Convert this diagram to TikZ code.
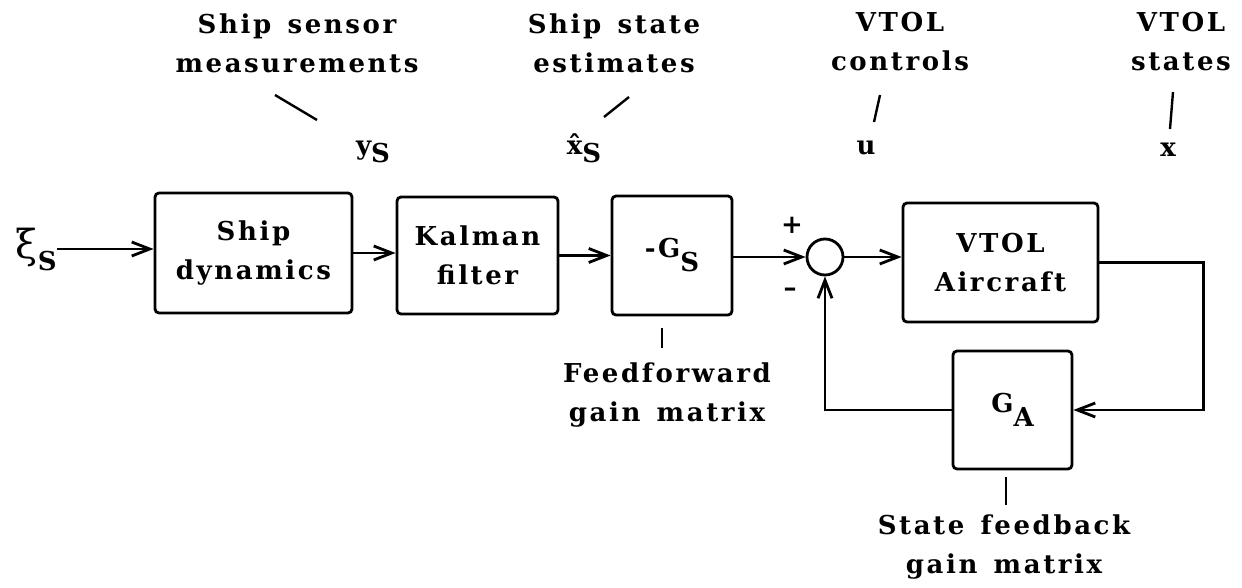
\documentclass[tikz,border=0pt]{standalone}
\usepackage{fontspec}
\setmainfont{DejaVu Serif}[LetterSpace=10,WordSpace=1.4]
\usetikzlibrary{arrows.meta,positioning,calc}
\newcommand{\lowsub}[2][3pt]{\raisebox{-#1}{#2}}

\begin{document}
\begin{tikzpicture}[x=0.5pt,y=-0.5pt,
    font=\fontsize{13}{19.5}\selectfont\bfseries,
    block/.style={draw,rounded corners=2pt,line width=1.4pt,inner sep=0pt,align=center},
    sig/.style={-{Straight Barb[length=9pt,width=7pt]},line width=1.4pt},
    leader/.style={line width=1.2pt},
    note/.style={align=center,inner sep=0pt}]
    \useasboundingbox (0,0) rectangle (1242,588);
    % blocks
    \node[block,minimum width=98.5pt,minimum height=60pt] (ship) at (253.5,253) {Ship\\dynamics};
    \node[block,minimum width=80.5pt,minimum height=58.5pt] (kalman) at (477.5,255.5) {Kalman\\filter};
    \node[block,minimum width=60pt,minimum height=59.5pt] (gs) at (672,255.5) {-G\lowsub[7pt]{S}};
    \node[draw,circle,minimum size=18pt,inner sep=0pt,line width=1.4pt] (sum) at (825,257) {};
    \node[block,minimum width=97.5pt,minimum height=59.5pt] (vtol) at (1000.5,262.5) {VTOL\\Aircraft};
    \node[block,minimum width=59.5pt,minimum height=59pt] (ga) at (1012.5,410) {G\lowsub[7pt]{A}};
    % signals
    \node[anchor=east,inner sep=0pt] (xi) at (57,249) {{\fontsize{20}{20}\selectfont\mdseries ξ}\lowsub[6pt]{S}};
    \node[anchor=base] (ys) at (373,155) {y\lowsub[4pt]{S}};
    \node[anchor=base] (xhat) at (584,155) {\^{x}\lowsub[4pt]{S}};
    \node[anchor=base] (u) at (866,155) {u};
    \node[anchor=base] (x) at (1168,157) {x};
    \node (plus) at (792,225) {+};
    \node (minus) at (790,292) {–};
    % notes
    \node[note] (sensortxt) at (297,43) {Ship sensor\\measurements};
    \node[note] (esttxt) at (614,43) {Ship state\\estimates};
    \node[note] (ctrltxt) at (900,42) {VTOL\\controls};
    \node[note] (statetxt) at (1181,42) {VTOL\\states};
    \node[note] (fftxt) at (667,395) {Feedforward\\gain matrix};
    \node[note] (sfbtxt) at (1004,547) {State feedback\\gain matrix};
    \draw[leader] (275,95) -- (317,120);
    \draw[leader] (629,97) -- (604,117);
    \draw[leader] (880,95) -- (874,122);
    \draw[leader] (1173,92) -- (1170,129);
    \draw[leader] (662,328) -- (662,348);
    \draw[leader] (1006,477) -- (1006,505);
    % connectors
    \draw[sig] (xi.east) -- (xi.east -| ship.west);
    \draw[sig] (ship.east) -- (ship.east -| kalman.west);
    \draw[sig] (kalman.east) -- (kalman.east -| gs.west);
    \draw[sig] (gs.east |- sum.west) -- (sum.west);
    \draw[sig] (sum.east) -- (sum.east -| vtol.west);
    \draw[sig] (vtol.east) -- ++(104,0) |- (ga.east);
    \draw[sig] (ga.west) -| (sum.south);
\end{tikzpicture}
\end{document}
